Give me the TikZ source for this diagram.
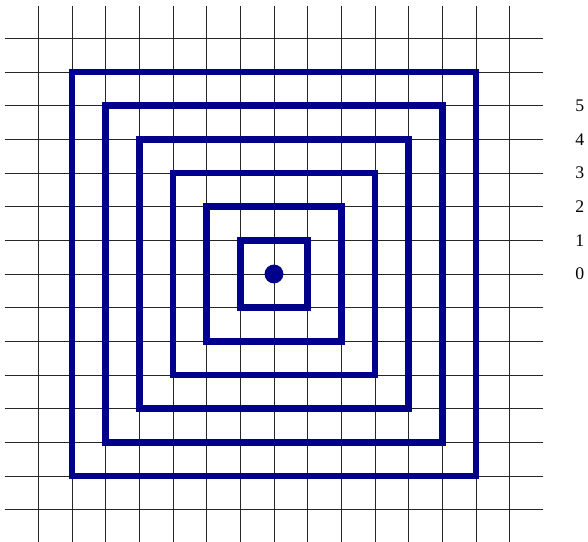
\documentclass[tikz,border=0pt]{standalone}
\usepackage{fontspec}
\setmainfont{Liberation Serif}
\usepackage{tikz}
\usetikzlibrary{positioning}
\definecolor{ringblue}{RGB}{0,0,140}

\begin{document}
\begin{tikzpicture}[font=\fontsize{15}{18}\selectfont,
  gridline/.style={black!85,line width=0.6pt},
  ring/.style={draw=ringblue,line width=5.5pt}]
\useasboundingbox (-8.14,-7.96) rectangle (9.33,8.14);
% grid
\foreach \k in {-7,...,7} {
  \draw[gridline] (-8,\k) -- (8,\k);
  \draw[gridline] (\k,-7.95) -- (\k,7.95);
}
% squares
\foreach \k in {1,...,6}
  \draw[ring] (-\k,-\k) rectangle (\k,\k);
\node[circle,fill=ringblue,minimum size=0.56cm,inner sep=0pt] (centre) at (0,0) {};
% levels
\node (lab0) at (9.09,0) {0};
\node (lab1) at (9.09,1) {1};
\node (lab2) at (9.09,2) {2};
\node (lab3) at (9.09,3) {3};
\node (lab4) at (9.09,4) {4};
\node (lab5) at (9.09,5) {5};
\end{tikzpicture}
\end{document}
